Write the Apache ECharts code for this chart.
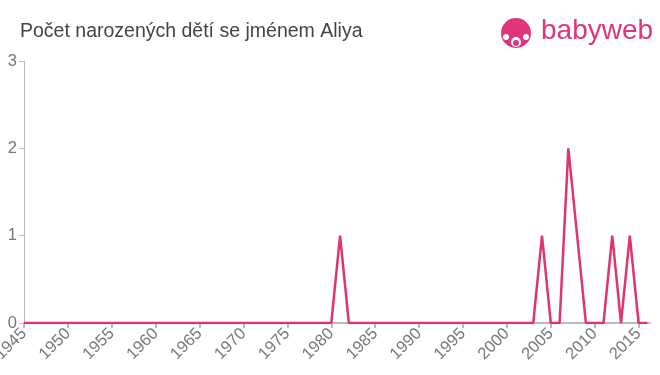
<!DOCTYPE html>
<html><head><meta charset="utf-8">
<script src="https://cdn.jsdelivr.net/npm/echarts@6/dist/echarts.min.js"></script>
<style>html,body{margin:0;padding:0;background:#fff}#c{width:660px;height:375px}</style>
</head><body><div id="c"></div>
<script>
var titleText = 'Počet narozených dětí se jménem Aliya';
var years = [];
for (var y = 1945; y <= 2016; y++) years.push(y);
var nonZero = {1981: 1, 2004: 1, 2007: 2, 2008: 1, 2012: 1, 2014: 1};
var counts = years.map(function (y) { return nonZero[y] || 0; });
var xTicks = [1945,1950,1955,1960,1965,1970,1975,1980,1985,1990,1995,2000,2005,2010,2015];
var yTicks = [0,1,2,3];

var chart = echarts.init(document.getElementById('c'));
chart.setOption({
  animation: false,
  title: {text: titleText, left: 15, top: 17, textStyle: {fontFamily: 'Liberation Sans, Arial', fontWeight: 'normal', fontSize: 19.5, color: '#444'}},
  grid: {left: 24, right: 10, top: 61, bottom: 52, containLabel: false, outerBoundsMode: 'none'},
  xAxis: {
    type: 'value', min: 1945, max: 2016.3,
    axisLine: {lineStyle: {color: '#bbb', width: 2}},
    axisTick: {show: true, length: 5, lineStyle: {color: '#bbb', width: 2}, customValues: xTicks},
    axisLabel: {rotate: 45, color: '#777', fontSize: 16.5, fontFamily: 'Liberation Sans, Arial', margin: 8, customValues: xTicks,
      formatter: function (v) { return String(v); }},
    splitLine: {show: false}
  },
  yAxis: {
    type: 'value', min: 0, max: 3, interval: 1,
    axisLine: {show: true, lineStyle: {color: '#bbb', width: 1}},
    axisTick: {show: true, length: 5, lineStyle: {color: '#bbb'}, customValues: yTicks},
    axisLabel: {color: '#777', fontSize: 16.5, fontFamily: 'Liberation Sans, Arial', margin: 7, customValues: yTicks},
    splitLine: {show: false}
  },
  series: [{
    type: 'line', data: years.map(function (y, i) { return [y, counts[i]]; }),
    showSymbol: false, lineStyle: {color: '#e0356c', width: 2.5}, itemStyle: {color: '#e0356c'}
  }],
  graphic: [
    {type: 'circle', shape: {cx: 516, cy: 33, r: 15}, style: {fill: '#e0357a'}},
    {type: 'circle', shape: {cx: 516, cy: 42, r: 5}, style: {fill: '#fff'}},
    {type: 'circle', shape: {cx: 506, cy: 37, r: 3}, style: {fill: '#fff'}},
    {type: 'circle', shape: {cx: 526, cy: 37, r: 3}, style: {fill: '#fff'}},
    {type: 'circle', shape: {cx: 516, cy: 43, r: 3}, style: {fill: '#e0357a'}},
    {type: 'text', left: 541, top: 17, style: {text: 'babyweb', fill: '#e0357a', fontSize: 28, fontFamily: 'Liberation Sans, Arial'}}
  ]
});
</script></body></html>
